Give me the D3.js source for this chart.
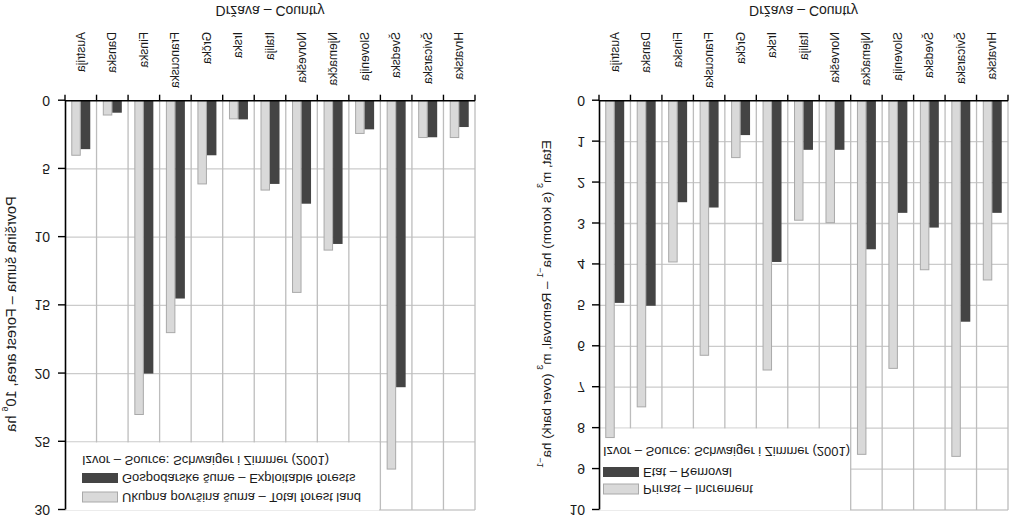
<!DOCTYPE html>
<html><head><meta charset="utf-8">
<script src="https://cdnjs.cloudflare.com/ajax/libs/d3/7.8.5/d3.min.js"></script>
<style>
html,body{margin:0;padding:0;background:#fff;}
svg{display:block;font-family:"Liberation Sans",Arial,sans-serif;}
</style></head>
<body>
<svg id="chart" width="1010" height="516"></svg>
<script>
const categories = ["Austrija","Danska","Finska","Francuska","Grčka","Irska","Italija","Norveška","Njemačka","Slovenija","Švedska","Švicarska","Hrvatska"];
const forestTotal   = [4.0, 1.05, 23.0, 17.0, 6.1, 1.33, 6.55, 14.05, 10.95, 2.4, 27.0, 2.7, 2.7];
const forestExploit = [3.55, 0.88, 20.0, 14.5, 4.0, 1.37, 6.1, 7.55, 10.5, 2.1, 21.0, 2.68, 1.93];
const increment     = [8.23, 7.48, 3.94, 6.22, 1.39, 6.58, 2.92, 2.98, 8.64, 6.54, 4.13, 8.69, 4.38];
const removal       = [4.94, 5.01, 2.48, 2.61, 0.84, 3.94, 1.2, 1.2, 3.63, 2.74, 3.1, 5.4, 2.74];
const ticksLeft  = [0,5,10,15,20,25,30];
const ticksRight = [0,1,2,3,4,5,6,7,8,9,10];
const xTitle = "Država – Country";
const sourceText = "Izvor – Source: Schwaiger i Zimmer (2001)";

const LIGHT = "#d9d9d9", LIGHT_STROKE = "#a9a9a9", DARK = "#444444";
const GRID_H = "#cbcbcb", GRID_V = "#bdbdbd", TXT = "#1a1a1a";

const svg = d3.select("#chart");
// the whole figure is mirrored top-to-bottom
const root = svg.append("g").attr("transform","translate(0,516) scale(1,-1)");

function panel(opt){
  const g = root.append("g");
  const x = d3.scaleBand().domain(categories).range([opt.x0, opt.x1]);
  const y = d3.scaleLinear().domain([0, opt.max]).range([415.3, 6]);
  const sub = d3.scaleBand().domain(["a","b"]).range([0, x.bandwidth()]).paddingOuter(0.66);
  const bounds = categories.map(c => x(c)).concat([opt.x1]);

  // horizontal grid
  g.append("g").selectAll("line").data(opt.ticks.slice(1)).join("line")
    .attr("x1", opt.x0).attr("x2", opt.x1)
    .attr("y1", d => y(d)).attr("y2", d => y(d))
    .attr("stroke", GRID_H).attr("stroke-width", 1.3);
  // vertical grid
  g.append("g").selectAll("line").data(bounds.slice(1)).join("line")
    .attr("x1", d => d).attr("x2", d => d)
    .attr("y1", y(0)).attr("y2", y(opt.max))
    .attr("stroke", GRID_V).attr("stroke-width", 1.3);

  // legend box (white, hides grid)
  const lb = opt.legend;
  g.append("rect").attr("x", opt.x0 + 1).attr("y", y(opt.max) - 0.5)
    .attr("width", lb.w).attr("height", lb.top - y(opt.max))
    .attr("fill", "#fff");

  // bars
  const bars = categories.map((c, i) => ({c, a: opt.light[i], b: opt.dark[i]}));
  g.append("g").selectAll("rect").data(bars).join("rect")
    .attr("x", d => x(d.c) + sub("a") + 0.5)
    .attr("y", d => y(d.a))
    .attr("width", sub.bandwidth() - 1)
    .attr("height", d => y(0) - y(d.a))
    .attr("fill", LIGHT).attr("stroke", LIGHT_STROKE).attr("stroke-width", 1);
  g.append("g").selectAll("rect").data(bars).join("rect")
    .attr("x", d => x(d.c) + sub("b"))
    .attr("y", d => y(d.b))
    .attr("width", sub.bandwidth())
    .attr("height", d => y(0) - y(d.b))
    .attr("fill", DARK);

  // y axis
  const ya = g.append("g").attr("transform", `translate(${opt.x0},0)`)
    .call(d3.axisLeft(y).tickValues(opt.ticks).tickSize(7).tickSizeOuter(0).tickPadding(opt.tickPad));
  ya.select(".domain").attr("stroke", "#000").attr("stroke-width", 1.6);
  ya.selectAll(".tick line").attr("stroke", "#000").attr("stroke-width", 1.4);
  ya.selectAll(".tick text").attr("font-size", 14).attr("fill", TXT)
    .attr("font-family", "'Liberation Sans',Arial,sans-serif");

  // x axis line & boundary ticks
  g.append("line").attr("x1", opt.x0).attr("x2", opt.x1)
    .attr("y1", y(0)).attr("y2", y(0)).attr("stroke", "#000").attr("stroke-width", 1.6);
  g.append("g").selectAll("line").data(bounds).join("line")
    .attr("x1", d => d).attr("x2", d => d)
    .attr("y1", y(0)).attr("y2", y(0) + 6)
    .attr("stroke", "#000").attr("stroke-width", 1.4);

  // category labels
  g.append("g").selectAll("text").data(categories).join("text")
    .attr("transform", d => `translate(${x(d) + x.bandwidth()/2},484) rotate(-90)`)
    .attr("text-anchor", "start").attr("dominant-baseline", "central")
    .attr("font-size", 12).attr("fill", TXT).text(d => d);

  // x title
  g.append("text").attr("x", (opt.x0 + opt.x1)/2).attr("y", 510)
    .attr("text-anchor", "middle").attr("font-size", 14).attr("fill", TXT).text(xTitle);

  // y title
  const yt = g.append("text")
    .attr("transform", `translate(${opt.yTitleX},${opt.yTitleY}) rotate(-90)`)
    .attr("text-anchor", "middle").attr("dominant-baseline", "central")
    .attr("font-size", opt.yTitleSize).attr("fill", TXT);
  opt.yTitle.forEach(p => {
    const t = yt.append("tspan").text(p.t);
    if (p.sup) t.attr("font-size", 9).attr("dy", -6);
    else if (p.after) t.attr("dy", 6);
  });

  // legend content
  const lg = g.append("g");
  lg.append("text").attr("x", opt.x0 + lb.dx).attr("y", lb.rows[0])
    .attr("dominant-baseline", "central").attr("font-size", 13).attr("fill", TXT).text(sourceText);
  lg.append("rect").attr("x", opt.x0 + lb.dx).attr("y", lb.rows[1] - 5).attr("width", 36).attr("height", 10)
    .attr("fill", DARK);
  lg.append("text").attr("x", opt.x0 + lb.dx + 40).attr("y", lb.rows[1])
    .attr("dominant-baseline", "central").attr("font-size", 13).attr("fill", TXT).text(opt.darkName);
  lg.append("rect").attr("x", opt.x0 + lb.dx + 0.5).attr("y", lb.rows[2] - 5).attr("width", 35).attr("height", 10)
    .attr("fill", LIGHT).attr("stroke", LIGHT_STROKE);
  lg.append("text").attr("x", opt.x0 + lb.dx + 40).attr("y", lb.rows[2])
    .attr("dominant-baseline", "central").attr("font-size", 13).attr("fill", TXT).text(opt.lightName);
}

panel({
  x0: 65, x1: 475, max: 30, ticks: ticksLeft, tickPad: 8,
  light: forestTotal, dark: forestExploit,
  darkName: "Gospodarske šume – Exploitable forests",
  lightName: "Ukupna površina šuma – Total forest land",
  yTitleX: 11, yTitleY: 202, yTitleSize: 14.5,
  yTitle: [{t:"Površina šuma – Forest area, 10"},{t:"6",sup:true},{t:" ha",after:true}],
  legend: {w: 313, top: 74, dx: 17, rows: [56, 38, 19]}
});

panel({
  x0: 599, x1: 1008, max: 10, ticks: ticksRight, tickPad: 7,
  light: increment, dark: removal,
  darkName: "Etat – Removal",
  lightName: "Prirast – Increment",
  yTitleX: 546, yTitleY: 212, yTitleSize: 13.5,
  yTitle: [{t:"Etat, m"},{t:"3",sup:true},{t:" (s korom) ha",after:true},{t:"−1",sup:true},
           {t:" – Removal, m",after:true},{t:"3",sup:true},{t:" (over bark) ha",after:true},{t:"−1",sup:true}],
  legend: {w: 250, top: 88, dx: 4, rows: [65, 44, 27]}
});
</script>
</body></html>
